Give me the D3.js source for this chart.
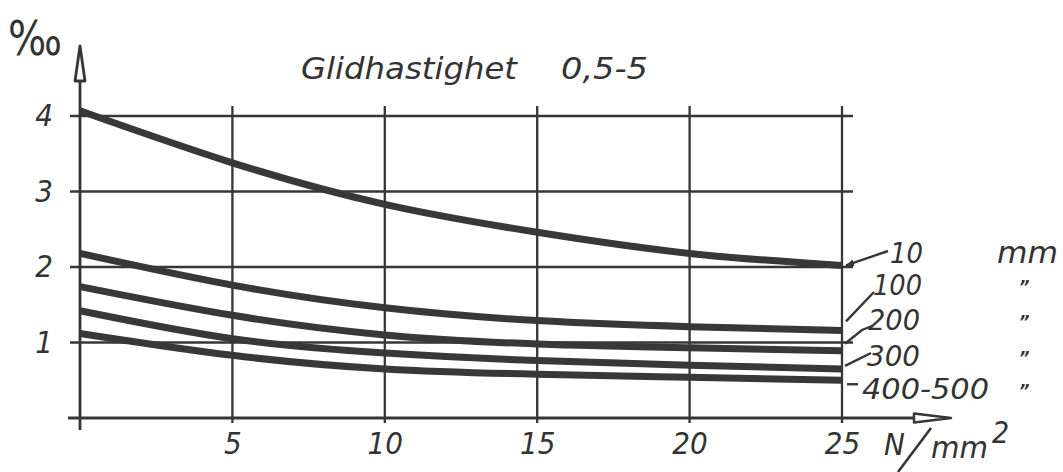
<!DOCTYPE html>
<html>
<head>
<meta charset="utf-8">
<script src="https://cdn.jsdelivr.net/npm/d3@7"></script>
<style>
  html, body { margin: 0; padding: 0; background: #ffffff; }
  svg { display: block; }
  text { font-family: 'DejaVu Sans', sans-serif; font-stretch: condensed; font-style: italic; fill: #333; }
</style>
</head>
<body>
<svg id="chart" width="1063" height="472"></svg>
<script>
// ---- data ----
const loads = [0, 5, 10, 15, 20, 25];                    // N/mm2
const s10   = [4.07, 3.38, 2.83, 2.46, 2.18, 2.02];       // 10 mm
const s100  = [2.18, 1.76, 1.46, 1.29, 1.21, 1.16];       // 100 mm
const s200  = [1.74, 1.36, 1.10, 0.98, 0.93, 0.89];       // 200 mm
const s300  = [1.42, 1.05, 0.86, 0.76, 0.70, 0.65];       // 300 mm
const s400  = [1.12, 0.83, 0.65, 0.58, 0.54, 0.50];       // 400-500 mm
const seriesNames = ["10", "100", "200", "300", "400-500"];
const seriesUnits = ["mm", "\u201D", "\u201D", "\u201D", "\u201D"];
const xTicks = [5, 10, 15, 20, 25];
const yTicks = [1, 2, 3, 4];
const title1 = "Glidhastighet";
const title2 = "0,5-5";
const yUnit = "\u2030";

const series = [s10, s100, s200, s300, s400];

// ---- layout ----
const svg = d3.select("#chart");
const ink = "#363636";
const x = d3.scaleLinear().domain([0, 25]).range([80, 842]);
const y = d3.scaleLinear().domain([0, 4]).range([418, 116]);

// grid: horizontal
svg.append("g").selectAll("line").data(yTicks).join("line")
  .attr("x1", x(0) - 10).attr("x2", x(25) + 11)
  .attr("y1", d => y(d)).attr("y2", d => y(d))
  .attr("stroke", ink).attr("stroke-width", 2.3);

// grid: vertical
svg.append("g").selectAll("line").data(xTicks).join("line")
  .attr("x1", d => x(d)).attr("x2", d => x(d))
  .attr("y1", y(4) - 10).attr("y2", y(0) + 5)
  .attr("stroke", ink).attr("stroke-width", 2.3);

// axes lines
svg.append("line").attr("x1", x(0)).attr("x2", x(0)).attr("y1", y(0) + 12).attr("y2", 80)
  .attr("stroke", ink).attr("stroke-width", 2.8);
svg.append("line").attr("x1", x(0) - 12).attr("x2", 915).attr("y1", y(0)).attr("y2", y(0))
  .attr("stroke", ink).attr("stroke-width", 2.8);
// arrow heads (open)
svg.append("path").attr("d", `M${x(0)},46 L${x(0)-5},81 L${x(0)+5},81 Z`)
  .attr("fill", "#fff").attr("stroke", ink).attr("stroke-width", 2.8).attr("stroke-linejoin", "round");
svg.append("path").attr("d", `M951,${y(0)} L914,${y(0)-4.5} L914,${y(0)+4.5} Z`)
  .attr("fill", "#fff").attr("stroke", ink).attr("stroke-width", 2.5).attr("stroke-linejoin", "round");

// axis labels via d3 axes
const fs = 31;
const gx = svg.append("g").attr("transform", `translate(0,${y(0)})`)
  .call(d3.axisBottom(x).tickValues(xTicks).tickFormat(d3.format("d")).tickSize(0).tickPadding(14));
gx.select(".domain").remove();
gx.selectAll("text").style("font-size", fs + "px").style("font-family", null).attr("fill", "#333");

const gy = svg.append("g").attr("transform", `translate(${x(0)},0)`)
  .call(d3.axisLeft(y).tickValues(yTicks).tickFormat(d3.format("d")).tickSize(0).tickPadding(27));
gy.select(".domain").remove();
gy.selectAll("text").style("font-size", fs + "px").style("font-family", null).attr("fill", "#333");

// curves
const line = d3.line().x((d, i) => x(loads[i])).y(d => y(d)).curve(d3.curveNatural);
svg.append("g").selectAll("path").data(series).join("path")
  .attr("d", d => line(d))
  .attr("fill", "none").attr("stroke", "#383838").attr("stroke-width", 7).attr("stroke-linecap", "butt");

// title
svg.append("text").attr("x", 301).attr("y", 79).attr("textLength", 216).attr("lengthAdjust", "spacingAndGlyphs")
  .style("font-size", "31px").text(title1);
svg.append("text").attr("x", 561).attr("y", 79).attr("textLength", 87).attr("lengthAdjust", "spacingAndGlyphs")
  .style("font-size", "31px").text(title2);

// per mille unit
svg.append("text").attr("x", 8).attr("y", 55).attr("textLength", 54).attr("lengthAdjust", "spacingAndGlyphs")
  .style("font-size", "48px").style("font-style", "normal").text(yUnit);

// x unit N/mm2
svg.append("text").attr("x", 884).attr("y", 455).style("font-size", "31px").text("N");
svg.append("line").attr("x1", 898).attr("y1", 472).attr("x2", 931).attr("y2", 428)
  .attr("stroke", ink).attr("stroke-width", 2.6);
svg.append("text").attr("x", 931).attr("y", 458).attr("textLength", 57).attr("lengthAdjust", "spacingAndGlyphs")
  .style("font-size", "31px").text("mm");
svg.append("text").attr("x", 992).attr("y", 443).style("font-size", "30px").text("2");

// series labels
const labelPos = [
  {lx: 890, ly: 263, w: 33},
  {lx: 873, ly: 295, w: 49},
  {lx: 868, ly: 330, w: 52},
  {lx: 867, ly: 366, w: 53},
  {lx: 862, ly: 399, w: 127}
];
svg.append("g").selectAll("text").data(seriesNames).join("text")
  .attr("x", (d, i) => labelPos[i].lx).attr("y", (d, i) => labelPos[i].ly)
  .attr("textLength", (d, i) => labelPos[i].w).attr("lengthAdjust", "spacingAndGlyphs")
  .style("font-size", "29px").text(d => d);
svg.append("g").selectAll("text").data(seriesUnits).join("text")
  .attr("x", (d, i) => i === 0 ? 997 : 1019).attr("y", (d, i) => i === 0 ? 263 : labelPos[i].ly - 2)
  .attr("textLength", (d, i) => i === 0 ? 61 : null).attr("lengthAdjust", "spacingAndGlyphs")
  .style("font-size", (d, i) => i === 0 ? "31px" : "18px").style("font-weight", (d, i) => i === 0 ? null : "bold")
  .text(d => d);

// leader lines from curve ends to labels
const xe = x(25);
const leaders = [
  [[xe + 4, y(s10[5])], [888, 251]],
  [[xe + 4, y(s100[5]) - 9], [874, 292]],
  [[xe + 3, y(s200[5]) - 7], [862, 330], [872, 326]],
  [[xe + 3, y(s300[5]) - 3], [871, 353]],
  [[xe + 5, y(s400[5]) + 4], [858, y(s400[5]) + 4]]
];
svg.append("g").selectAll("path").data(leaders).join("path")
  .attr("d", d => d3.line()(d)).attr("fill", "none").attr("stroke", ink).attr("stroke-width", 2.4);
// small arrow head for the 10 mm leader
const a0 = leaders[0][0], a1 = leaders[0][1];
const ang = Math.atan2(a0[1] - a1[1], a0[0] - a1[0]);
const ah = 8, aw = 3.5;
const bx = a0[0] - ah * Math.cos(ang), by = a0[1] - ah * Math.sin(ang);
svg.append("path")
  .attr("d", `M${a0[0]},${a0[1]} L${bx - aw * Math.sin(ang)},${by + aw * Math.cos(ang)} L${bx + aw * Math.sin(ang)},${by - aw * Math.cos(ang)} Z`)
  .attr("fill", ink);
</script>
</body>
</html>
